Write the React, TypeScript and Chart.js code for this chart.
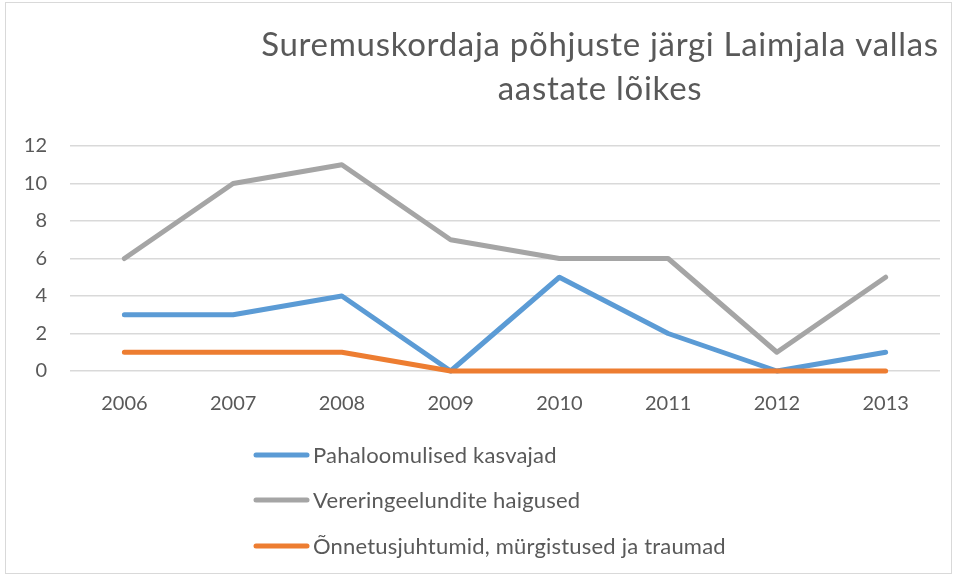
import React, { useEffect, useRef } from "react";
import { Chart, registerables } from "chart.js";

Chart.register(...registerables);

const years = ["2006", "2007", "2008", "2009", "2010", "2011", "2012", "2013"];
const seriesNames = [
  "Pahaloomulised kasvajad",
  "Vereringeelundite haigused",
  "Õnnetusjuhtumid, mürgistused ja traumad",
];
const pahaloomulised = [3, 3, 4, 0, 5, 2, 0, 1];
const vereringe = [6, 10, 11, 7, 6, 6, 1, 5];
const onnetus = [1, 1, 1, 0, 0, 0, 0, 0];
const seriesColors = ["#5B9BD5", "#A5A5A5", "#ED7D31"];
const titleLines = ["Suremuskordaja põhjuste järgi Laimjala vallas", "aastate lõikes"];
const yTicks = [0, 2, 4, 6, 8, 10, 12];

const FONT = "Lato, 'Open Sans', sans-serif";
const TEXT = "#595959";

const decorPlugin = {
  id: "decor",
  afterDraw(chart: any) {
    const ctx = chart.ctx;
    ctx.save();
    // border
    ctx.strokeStyle = "#D9D9D9";
    ctx.lineWidth = 1;
    ctx.strokeRect(5.5, 2.5, 946, 571);
    // title
    ctx.fillStyle = TEXT;
    ctx.font = `33px ${FONT}`;
    try { (ctx as any).letterSpacing = "0.7px"; } catch (e) {}
    ctx.textAlign = "center";
    ctx.textBaseline = "alphabetic";
    ctx.fillText(titleLines[0], 600, 56);
    ctx.fillText(titleLines[1], 600, 100);
    // legend
    try { (ctx as any).letterSpacing = "0.2px"; } catch (e) {}
    ctx.font = `22px ${FONT}`;
    ctx.textAlign = "left";
    ctx.textBaseline = "middle";
    const ys = [455, 500, 546];
    chart.data.datasets.forEach((ds: any, i: number) => {
      const y = ys[i];
      ctx.strokeStyle = ds.borderColor;
      ctx.lineWidth = 5;
      ctx.lineCap = "round";
      ctx.beginPath();
      ctx.moveTo(256, y);
      ctx.lineTo(307, y);
      ctx.stroke();
      ctx.fillStyle = TEXT;
      ctx.fillText(ds.label, 313, y + 1);
    });
    try { (ctx as any).letterSpacing = "0px"; } catch (e) {}
    ctx.restore();
  },
};

export default function App() {
  const ref = useRef<HTMLCanvasElement>(null);
  useEffect(() => {
    const datasets = [pahaloomulised, vereringe, onnetus].map((d, i) => ({
      label: seriesNames[i],
      data: d,
      borderColor: seriesColors[i],
      backgroundColor: seriesColors[i],
      borderWidth: 5,
      pointRadius: 0,
      borderCapStyle: "round" as const,
      borderJoinStyle: "round" as const,
      tension: 0,
      clip: false as any,
      order: 2 - i,
    }));
    const chart = new Chart(ref.current!, {
      type: "line",
      data: { labels: years, datasets },
      options: {
        animation: false,
        responsive: false,
        layout: { padding: { top: 146, right: 16, left: 0, bottom: 0 } },
        plugins: {
          legend: { display: false },
          title: { display: false },
          tooltip: { enabled: false },
        },
        scales: {
          x: {
            offset: true,
            grid: { display: false, drawTicks: false },
            border: { display: false },
            ticks: { color: TEXT, font: { family: FONT, size: 20 }, padding: 21 },
            afterFit: (s: any) => {
              s.height = 205;
            },
          },
          y: {
            min: 0,
            max: 12,
            afterBuildTicks: (s: any) => {
              s.ticks = yTicks.map((v) => ({ value: v }));
            },
            grid: { color: "#D9D9D9", lineWidth: 1.5, drawTicks: false },
            border: { display: false },
            ticks: { color: TEXT, font: { family: FONT, size: 20 }, padding: 23 },
            afterFit: (s: any) => {
              s.width = 70;
            },
          },
        },
      },
      plugins: [decorPlugin],
    });
    return () => chart.destroy();
  }, []);
  return (
    <div style={{ position: "fixed", left: 0, top: 0, width: 956, height: 576, background: "#fff" }}>
      <canvas ref={ref} width={956} height={576} />
    </div>
  );
}
